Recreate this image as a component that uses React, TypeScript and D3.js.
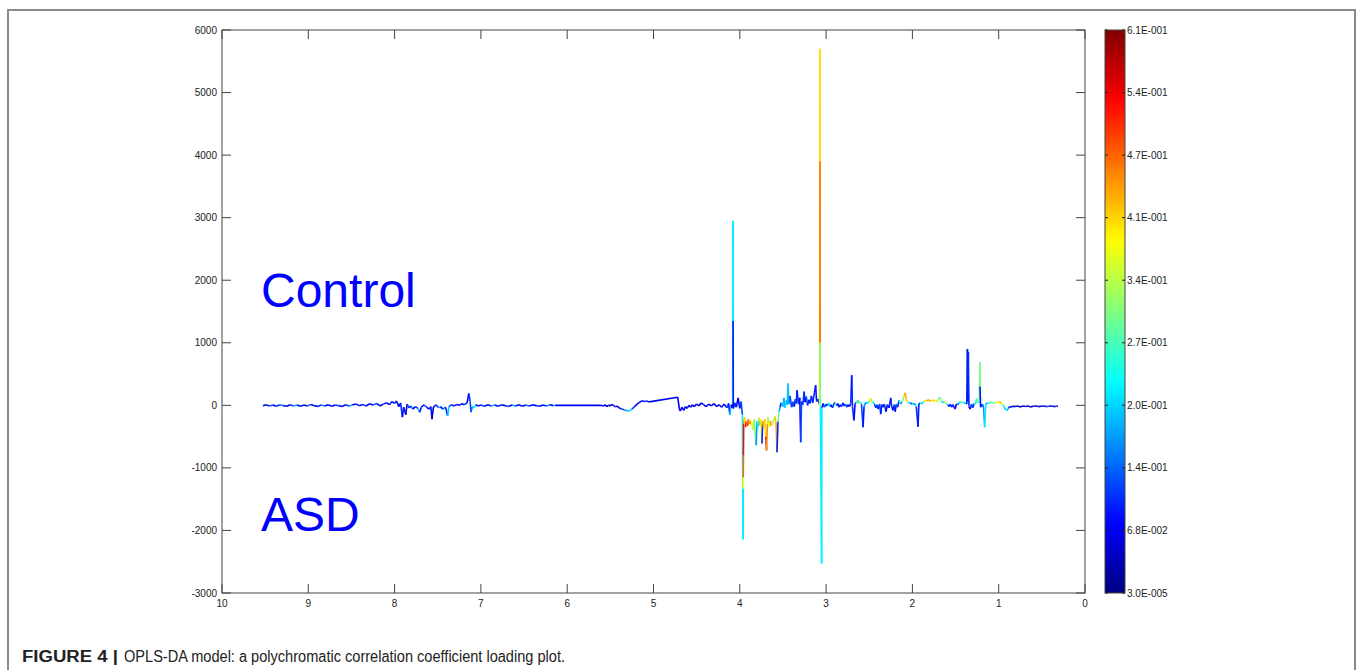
import React from "react";
import * as d3 from "d3";

// [chemical shift (ppm), loading, correlation coefficient r]
type Pt = [number, number, number];

const lowFieldBaseline: Pt[] = [
  [9.525, -5, 0.06], [9.49, 10, 0.09], [9.45, -10, 0.12], [9.41, 5, 0.07], [9.37, -15, 0.1],
  [9.33, 10, 0.16], [9.29, -5, 0.08], [9.25, -15, 0.06], [9.21, 10, 0.11], [9.17, -10, 0.18],
  [9.13, 5, 0.07], [9.09, -15, 0.09], [9.05, 5, 0.06], [9.01, -10, 0.13], [8.97, 15, 0.08],
  [8.93, -5, 0.06], [8.89, -20, 0.1], [8.85, 5, 0.15], [8.81, -10, 0.07], [8.77, 10, 0.09],
  [8.73, -15, 0.06], [8.69, 5, 0.12], [8.65, -5, 0.08], [8.61, -20, 0.06], [8.57, 10, 0.1],
  [8.53, -10, 0.17], [8.49, 5, 0.07], [8.45, 20, 0.09], [8.41, -5, 0.06], [8.37, 15, 0.11],
  [8.33, -10, 0.08], [8.29, 25, 0.07], [8.25, 5, 0.14], [8.21, 30, 0.08], [8.17, -10, 0.06],
  [8.13, 20, 0.1],
];

const aromaticRegion: Pt[] = [
  [8.09, 40, 0.07], [8.06, 10, 0.09], [8.03, 60, 0.06], [8.0, 30, 0.12], [7.98, 70, 0.08],
  [7.95, -20, 0.06], [7.93, 40, 0.1], [7.91, -190, 0.07], [7.895, -30, 0.09], [7.87, -150, 0.06],
  [7.855, 20, 0.11], [7.83, -40, 0.08], [7.81, -10, 0.15], [7.79, -60, 0.07], [7.76, -20, 0.1],
  [7.73, -50, 0.18], [7.71, -110, 0.09], [7.69, -30, 0.07], [7.66, 10, 0.12], [7.63, -30, 0.08],
  [7.6, -60, 0.06], [7.58, -20, 0.09], [7.567, -220, 0.05], [7.55, -30, 0.08], [7.52, 10, 0.11],
  [7.49, -40, 0.19], [7.47, -20, 0.07], [7.44, -60, 0.15], [7.41, -30, 0.1], [7.385, -170, 0.2],
  [7.37, -20, 0.12], [7.34, 10, 0.08], [7.31, -10, 0.1], [7.28, 15, 0.07], [7.25, 0, 0.09],
  [7.22, 25, 0.06], [7.19, 10, 0.1], [7.16, 40, 0.08], [7.14, 190, 0.1], [7.125, 60, 0.12],
  [7.115, -110, 0.14], [7.1, -20, 0.19], [7.08, -40, 0.22], [7.06, 10, 0.09], [7.03, -10, 0.07],
  [7.0, 5, 0.12], [6.96, -15, 0.06], [6.92, 10, 0.09], [6.88, -10, 0.18], [6.84, 5, 0.07],
  [6.8, -15, 0.1], [6.76, 10, 0.06], [6.72, -5, 0.12], [6.68, -20, 0.08], [6.64, 5, 0.17],
  [6.6, -10, 0.07], [6.56, 10, 0.09], [6.52, -15, 0.06], [6.48, 5, 0.14], [6.44, -10, 0.08],
  [6.4, 10, 0.07], [6.36, -5, 0.11], [6.32, -15, 0.06], [6.28, 5, 0.09], [6.24, -10, 0.15],
  [6.2, 10, 0.08], [6.16, -5, 0.19], [6.14, 0, 0.07],
];

const sugarRegion: Pt[] = [
  [5.6, 0, 0.08], [5.58, -15, 0.06], [5.56, 10, 0.05], [5.54, -20, 0.07], [5.52, 5, 0.06],
  [5.5, -10, 0.05], [5.48, 15, 0.08], [5.46, -5, 0.06], [5.44, -25, 0.07], [5.42, -10, 0.05],
  [5.4, -40, 0.09], [5.37, -60, 0.12], [5.34, -70, 0.16], [5.31, -85, 0.2], [5.28, -90, 0.21],
  [5.25, -60, 0.12], [5.22, -20, 0.08], [5.19, 20, 0.06], [5.16, 50, 0.09], [5.13, 75, 0.07],
  [5.11, 60, 0.1], [5.08, 70, 0.08], [5.05, 55, 0.07],
];

const midRegion: Pt[] = [
  [4.72, 130, 0.07], [4.7, -60, 0.08], [4.69, -90, 0.06], [4.67, -30, 0.05], [4.65, -80, 0.07],
  [4.63, -20, 0.06], [4.61, -50, 0.09], [4.59, 0, 0.05], [4.57, -30, 0.07], [4.55, 10, 0.06],
  [4.53, -20, 0.05], [4.5, 20, 0.08], [4.47, -10, 0.06], [4.45, 40, 0.07], [4.42, 10, 0.05],
  [4.39, -20, 0.09], [4.36, 20, 0.06], [4.33, -10, 0.07], [4.3, 30, 0.05], [4.27, -20, 0.08],
  [4.24, 10, 0.06], [4.21, -30, 0.09], [4.18, 20, 0.07], [4.15, -40, 0.12], [4.13, 30, 0.08],
  [4.115, -150, 0.2], [4.1, 10, 0.09], [4.09, -40, 0.07],
  [4.083, 20, 0.22], [4.079, 2950, 0.22], [4.078, 1350, 0.09], [4.075, -50, 0.08],
  [4.06, 40, 0.1], [4.04, -30, 0.08], [4.02, 120, 0.07], [4.0, -50, 0.1], [3.985, 60, 0.12],
  [3.97, -150, 0.22], [3.962, -2140, 0.22], [3.96, -1330, 0.38], [3.959, -1150, 0.47],
  [3.958, -800, 0.53], [3.955, -300, 0.45],
  [3.945, -190, 0.4], [3.935, -350, 0.53], [3.925, -260, 0.47], [3.91, -330, 0.5], [3.9, -220, 0.44],
  [3.88, -300, 0.46], [3.865, -250, 0.38], [3.85, -400, 0.34], [3.835, -230, 0.3], [3.81, -640, 0.17],
  [3.8, -250, 0.25], [3.789, -350, 0.22], [3.775, -200, 0.4], [3.765, -320, 0.45], [3.755, -230, 0.38],
  [3.743, -610, 0.1], [3.735, -260, 0.42], [3.725, -350, 0.44], [3.71, -220, 0.4], [3.7, -500, 0.55],
  [3.695, -560, 0.58], [3.69, -720, 0.45], [3.68, -300, 0.4], [3.673, -190, 0.32], [3.66, -350, 0.38],
  [3.65, -250, 0.44], [3.635, -330, 0.41], [3.62, -260, 0.3], [3.605, -230, 0.34], [3.592, -180, 0.42],
  [3.58, -280, 0.44], [3.569, -750, 0.1], [3.557, -260, 0.3], [3.545, -100, 0.18], [3.534, -30, 0.1],
  [3.52, 40, 0.16], [3.5, -20, 0.2], [3.49, 120, 0.18], [3.476, -40, 0.22], [3.46, 80, 0.16],
  [3.45, 10, 0.19], [3.441, 350, 0.2], [3.43, 20, 0.15], [3.418, 150, 0.12], [3.4, -30, 0.1],
  [3.385, 60, 0.14], [3.37, -20, 0.08], [3.355, 100, 0.12], [3.345, 30, 0.1], [3.337, 240, 0.09],
  [3.32, 20, 0.11], [3.305, 120, 0.08], [3.294, -590, 0.12], [3.285, 60, 0.09], [3.27, 10, 0.11],
  [3.255, 220, 0.1], [3.244, 50, 0.08], [3.23, 140, 0.12], [3.215, 0, 0.1], [3.2, 90, 0.07],
  [3.187, 30, 0.11], [3.17, 150, 0.09], [3.155, 40, 0.1], [3.135, 200, 0.08], [3.121, 320, 0.09],
  [3.11, 60, 0.12], [3.095, 100, 0.1], [3.08, 30, 0.14],
  [3.075, 20, 0.4], [3.072, 5700, 0.4], [3.071, 3900, 0.47], [3.069, 1000, 0.3], [3.066, -20, 0.22],
  [3.052, -2530, 0.22], [3.049, -40, 0.1],
];

const aliphaticRegion: Pt[] = [
  [3.035, 30, 0.09], [3.02, -30, 0.12], [3.0, 20, 0.08], [2.985, -10, 0.16], [2.97, 40, 0.22],
  [2.955, -20, 0.1], [2.94, 10, 0.08], [2.925, -40, 0.12], [2.91, 20, 0.09], [2.895, 50, 0.3],
  [2.88, -10, 0.11], [2.865, 30, 0.08], [2.85, -30, 0.1], [2.835, 10, 0.07], [2.82, -20, 0.12],
  [2.805, 40, 0.09], [2.79, -10, 0.08], [2.775, 20, 0.13], [2.76, -30, 0.1], [2.745, 10, 0.07],
  [2.73, -20, 0.09], [2.715, 30, 0.11], [2.703, 480, 0.09], [2.695, -20, 0.1], [2.677, -240, 0.08],
  [2.665, 20, 0.12], [2.65, 50, 0.32], [2.635, 80, 0.2], [2.62, 30, 0.36], [2.605, 60, 0.24],
  [2.59, 20, 0.12], [2.572, -350, 0.09], [2.56, -20, 0.16],
  [2.54, 50, 0.2], [2.52, 30, 0.23], [2.5, 70, 0.36], [2.485, 110, 0.4], [2.47, 40, 0.3],
  [2.455, 60, 0.22], [2.44, 20, 0.12], [2.425, -40, 0.09], [2.41, 10, 0.11], [2.395, -60, 0.08],
  [2.38, 20, 0.12], [2.367, -140, 0.09], [2.355, 10, 0.1], [2.34, -30, 0.08], [2.325, 20, 0.11],
  [2.306, -100, 0.07], [2.29, 10, 0.1], [2.27, -40, 0.09], [2.251, 120, 0.1], [2.24, -20, 0.08],
  [2.225, -80, 0.09], [2.21, 10, 0.12], [2.2, -100, 0.08], [2.185, 20, 0.14], [2.17, -30, 0.1],
  [2.155, 80, 0.22], [2.14, 20, 0.16], [2.12, 50, 0.3], [2.1, 140, 0.4], [2.086, 200, 0.44],
  [2.075, 120, 0.42], [2.06, 60, 0.3], [2.045, 30, 0.22], [2.03, 50, 0.18], [2.016, 20, 0.12],
  [2.0, 40, 0.2], [1.985, 10, 0.14], [1.97, 30, 0.22], [1.955, -20, 0.1], [1.935, -340, 0.09],
  [1.925, 20, 0.12], [1.91, 40, 0.22], [1.895, 20, 0.2], [1.88, 50, 0.25], [1.865, 60, 0.36],
  [1.85, 80, 0.4], [1.835, 70, 0.44], [1.82, 90, 0.42], [1.805, 80, 0.46], [1.79, 70, 0.4],
  [1.775, 60, 0.38], [1.76, 90, 0.42], [1.745, 70, 0.36], [1.73, 80, 0.4], [1.715, 60, 0.33],
  [1.7, 100, 0.28], [1.68, 130, 0.3], [1.665, 60, 0.24], [1.65, 40, 0.2], [1.635, 70, 0.36],
  [1.62, 40, 0.3], [1.605, 30, 0.22], [1.59, 10, 0.12], [1.575, -20, 0.09], [1.56, 20, 0.1],
  [1.545, -30, 0.08], [1.53, 10, 0.11], [1.506, -60, 0.07], [1.49, 20, 0.1], [1.475, 10, 0.16],
  [1.46, 40, 0.22], [1.445, 60, 0.26], [1.43, 40, 0.3], [1.415, 60, 0.24], [1.4, 30, 0.2],
  [1.385, 40, 0.18], [1.37, 20, 0.09], [1.362, 900, 0.09], [1.358, 60, 0.09], [1.352, 850, 0.1],
  [1.345, -20, 0.08], [1.33, -60, 0.09], [1.315, 20, 0.12], [1.3, -40, 0.1], [1.285, 30, 0.26],
  [1.27, 20, 0.22], [1.255, 110, 0.3], [1.24, 40, 0.24], [1.225, 60, 0.3], [1.219, 690, 0.3],
  [1.216, 300, 0.09], [1.21, -30, 0.1], [1.19, 20, 0.12], [1.175, -40, 0.16], [1.162, -350, 0.22],
  [1.15, 20, 0.18], [1.13, 40, 0.22], [1.11, 30, 0.26], [1.09, 50, 0.3], [1.07, 40, 0.28],
  [1.05, 30, 0.32], [1.03, 50, 0.38], [1.01, 40, 0.4], [0.99, 60, 0.42], [0.97, 30, 0.36],
  [0.95, 10, 0.24], [0.935, -30, 0.2], [0.92, -70, 0.22], [0.905, -85, 0.2], [0.89, -50, 0.12],
  [0.875, -20, 0.08], [0.86, -30, 0.06],
];

const highFieldBaseline: Pt[] = [
  [0.84, -15, 0.04], [0.81, -20, 0.05], [0.78, -10, 0.03], [0.75, -25, 0.05], [0.72, -10, 0.04],
  [0.69, -20, 0.06], [0.66, -10, 0.03], [0.63, -25, 0.05], [0.6, -15, 0.04], [0.57, -10, 0.06],
  [0.54, -20, 0.03], [0.51, -15, 0.05], [0.48, -10, 0.04], [0.45, -20, 0.12], [0.42, -15, 0.05],
  [0.39, -10, 0.04], [0.36, -20, 0.1], [0.33, -15, 0.05], [0.313, -10, 0.06],
];

const xTicks = [10, 9, 8, 7, 6, 5, 4, 3, 2, 1, 0];
const yTicks = [-3000, -2000, -1000, 0, 1000, 2000, 3000, 4000, 5000, 6000];
const cbarMin = 0.00003;
const cbarMax = 0.61;
const cbarTickValues = [0.00003, 0.0678, 0.1356, 0.2034, 0.2711, 0.3389, 0.4067, 0.4745, 0.5422, 0.61];
const cbarTickLabels = [
  "3.0E-005", "6.8E-002", "1.4E-001", "2.0E-001", "2.7E-001",
  "3.4E-001", "4.1E-001", "4.7E-001", "5.4E-001", "6.1E-001",
];

const clamp = (v: number) => Math.max(0, Math.min(1, v));
function jet(v: number): string {
  const t = (v - cbarMin) / (cbarMax - cbarMin);
  const r = clamp(1.5 - Math.abs(4 * t - 3));
  const g = clamp(1.5 - Math.abs(4 * t - 2));
  const b = clamp(1.5 - Math.abs(4 * t - 1));
  return d3.rgb(r * 255, g * 255, b * 255).formatHex();
}

const FONT = "'Liberation Sans', Arial, Helvetica, sans-serif";

export default function App() {
  const left = 222, right = 1085, top = 30, bottom = 593;
  const x = d3.scaleLinear().domain([10, 0]).range([left, right]);
  const y = d3.scaleLinear().domain([-3000, 6000]).range([bottom, top]);
  const cb = d3.scaleLinear().domain([cbarMin, cbarMax]).range([bottom, top]);
  const cbL = 1105, cbR = 1125;

  const pts: Pt[] = [
    ...lowFieldBaseline, ...aromaticRegion, ...sugarRegion,
    ...midRegion, ...aliphaticRegion, ...highFieldBaseline,
  ];
  const segs = d3.pairs(pts);
  const stops = d3.range(0, 1.0001, 0.02);
  const tickLen = 9;
  const axisColor = "#444";

  return (
    <svg width={1360} height={670} style={{ position: "absolute", left: 0, top: 0 }}>
      <defs>
        <linearGradient id="jet" x1="0" y1="1" x2="0" y2="0">
          {stops.map((s) => (
            <stop key={s} offset={s} stopColor={jet(cbarMin + s * (cbarMax - cbarMin))} />
          ))}
        </linearGradient>
      </defs>
      <rect x={0} y={0} width={1360} height={670} fill="#fff" />
      <path d="M8,672 L8,10 L1355,10 L1355,672" fill="none" stroke="#8a8a8a" strokeWidth={2} />

      {/* plot frame */}
      <rect x={left} y={top} width={right - left} height={bottom - top} fill="#fff" stroke={axisColor} strokeWidth={1} />

      {/* y ticks */}
      {yTicks.map((t) => (
        <g key={"y" + t}>
          <line x1={left} x2={left + tickLen} y1={y(t)} y2={y(t)} stroke={axisColor} />
          <line x1={right} x2={right - tickLen} y1={y(t)} y2={y(t)} stroke={axisColor} />
          <text x={left - 5} y={y(t)} dy="0.35em" textAnchor="end" fontFamily={FONT} fontSize={10} fill="#222">
            {t}
          </text>
        </g>
      ))}
      {/* x ticks */}
      {xTicks.map((t) => (
        <g key={"x" + t}>
          <line x1={x(t)} x2={x(t)} y1={bottom} y2={bottom - tickLen} stroke={axisColor} />
          <line x1={x(t)} x2={x(t)} y1={top} y2={top + tickLen} stroke={axisColor} />
          <text x={x(t)} y={bottom + 14} textAnchor="middle" fontFamily={FONT} fontSize={10} fill="#222">
            {t}
          </text>
        </g>
      ))}

      {/* loading line coloured by correlation */}
      <g strokeWidth={1.6} strokeLinecap="butt">
        {segs.map(([a, b], i) => (
          <line key={i} x1={x(a[0])} y1={y(a[1])} x2={x(b[0])} y2={y(b[1])} stroke={jet(a[2])} />
        ))}
      </g>

      <text x={261} y={307} fontFamily={FONT} fontSize={48} fill="#0000ff">Control</text>
      <text x={261} y={531} fontFamily={FONT} fontSize={48} fill="#0000ff">ASD</text>

      {/* colour bar */}
      <rect x={cbL} y={top} width={cbR - cbL} height={bottom - top} fill="url(#jet)" stroke={axisColor} strokeWidth={1} />
      {cbarTickValues.map((v, i) => (
        <g key={"c" + i}>
          <line x1={cbL} x2={cbL + 3} y1={cb(v)} y2={cb(v)} stroke="#222" />
          <line x1={cbR} x2={cbR - 3} y1={cb(v)} y2={cb(v)} stroke="#222" />
          <text x={cbR + 2} y={cb(v)} dy="0.35em" fontFamily={FONT} fontSize={10} fill="#222">
            {cbarTickLabels[i]}
          </text>
        </g>
      ))}

      {/* caption */}
      <text x={22} y={662} fontFamily={FONT} fontSize={16} fontWeight="bold" fill="#222" textLength={96} lengthAdjust="spacingAndGlyphs">
        FIGURE 4 |
      </text>
      <text x={124} y={662} fontFamily={FONT} fontSize={16} fill="#222" textLength={441} lengthAdjust="spacingAndGlyphs">
        OPLS-DA model: a polychromatic correlation coefficient loading plot.
      </text>
    </svg>
  );
}
